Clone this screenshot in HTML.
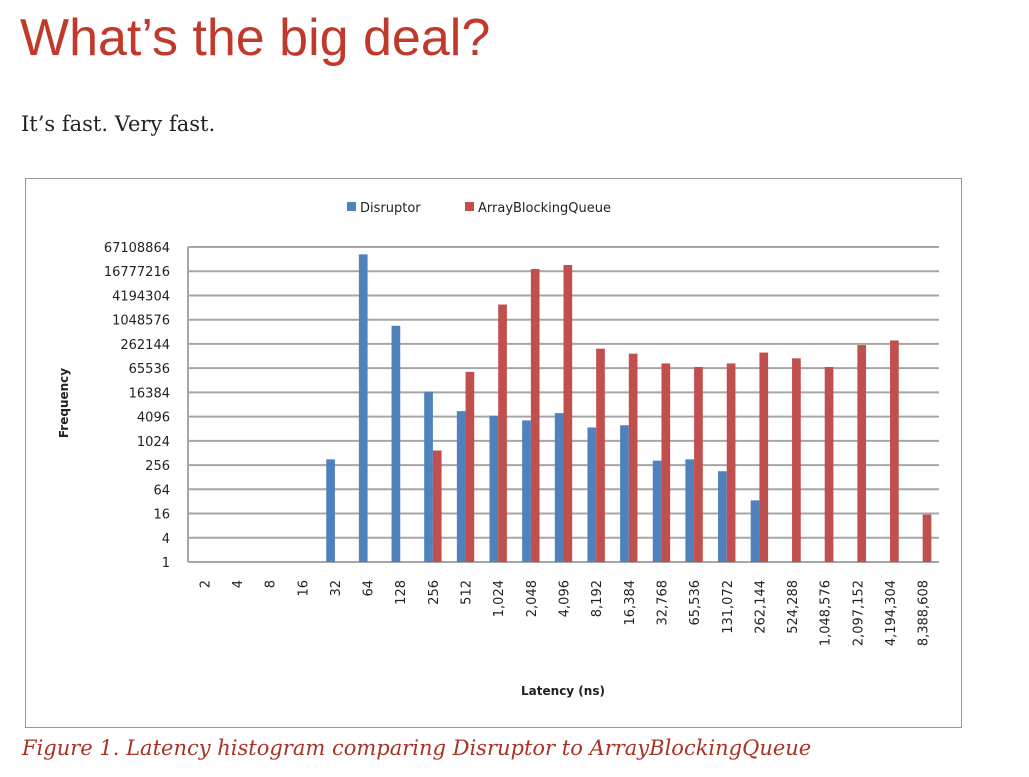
<!DOCTYPE html>
<html><head><meta charset="utf-8"><style>
body{margin:0;background:#fff;width:1029px;height:777px;overflow:hidden;position:relative}
#title{position:absolute;left:20px;top:8px;font:52px "Liberation Sans",sans-serif;color:#c0392b;letter-spacing:0px;margin:0;font-weight:normal}
#sub{position:absolute;left:21px;top:112px;font:21px "DejaVu Serif",serif;color:#222;margin:0}
#cap{position:absolute;left:22px;top:736px;font:italic 21px "DejaVu Serif",serif;color:#a93226;margin:0}
svg{position:absolute;left:0;top:0}
</style></head><body>
<h1 id="title">What’s the big deal?</h1>
<p id="sub">It’s fast. Very fast.</p>
<svg id="chart" width="1029" height="777" font-family="DejaVu Sans, sans-serif">
<rect x="25.5" y="178.5" width="936" height="549" fill="#fff" stroke="#999"/>
<g>
<rect x="347" y="202" width="9" height="9" fill="#4f81bd"/>
<text x="360" y="212" font-size="13" fill="#222">Disruptor</text>
<rect x="465" y="202" width="9" height="9" fill="#c0504d"/>
<text x="478" y="212" font-size="13" fill="#222">ArrayBlockingQueue</text>
</g>
<text transform="translate(68,403) rotate(-90)" text-anchor="middle" font-size="12" font-weight="bold" fill="#222">Frequency</text>
<text x="563" y="695" text-anchor="middle" font-size="12" font-weight="bold" fill="#222">Latency (ns)</text>
<g id="grid"></g><g id="bars"></g><g id="ylab"></g><g id="xlab"></g>
</svg>
<p id="cap">Figure 1. Latency histogram comparing Disruptor to ArrayBlockingQueue</p>
<script>
const categories=["2","4","8","16","32","64","128","256","512","1,024","2,048","4,096","8,192","16,384","32,768","65,536","131,072","262,144","524,288","1,048,576","2,097,152","4,194,304","8,388,608"];
const disruptor=[0,0,0,0,355,44000000,740000,17000,5600,4300,3300,5000,2200,2500,330,355,180,34,0,0,0,0,0];
const abq=[0,0,0,0,0,0,0,590,53000,2500000,19000000,24000000,200000,150000,86000,70000,86000,160000,115000,70000,245000,320000,15];
const yTicks=[1,4,16,64,256,1024,4096,16384,65536,262144,1048576,4194304,16777216,67108864];
const NS="http://www.w3.org/2000/svg";
const L=188,R=939,T=247,B=562,maxLog=26;
function y(v){return v<=1?B:B-(Math.log2(v)/maxLog)*(B-T);}
const cw=(R-L)/categories.length;
function xc(i){return L+cw*(i+0.5);}
function mk(tag,attrs,parent){const e=document.createElementNS(NS,tag);for(const k in attrs)e.setAttribute(k,attrs[k]);document.getElementById(parent).appendChild(e);return e;}
yTicks.forEach(t=>{
 const l=mk('line',{x1:L,x2:R,y1:y(t),y2:y(t),stroke:'#a6a6a6','stroke-width':2},'grid');
 
 
 const tx=mk('text',{x:170,y:y(t)+5,'text-anchor':'end','font-size':13,fill:'#222'},'ylab');
 tx.textContent=t;
 
 
});
const ax=mk('line',{x1:L,x2:L,y1:T,y2:B,stroke:'#a6a6a6','stroke-width':2},'grid');


const bw=8.7;
categories.forEach((c,i)=>{
 if(disruptor[i]>1){const r=mk('rect',{x:xc(i)-bw,y:y(disruptor[i]),width:bw,height:B-y(disruptor[i]),fill:'#4f81bd'},'bars');
  
  }
 if(abq[i]>1){const r=mk('rect',{x:xc(i),y:y(abq[i]),width:bw,height:B-y(abq[i]),fill:'#c0504d'},'bars');
  
  }
 const tx=mk('text',{transform:`translate(${xc(i)+5},580) rotate(-90)`,'text-anchor':'end','font-size':13,fill:'#222'},'xlab');
 tx.textContent=c;
 
 
});
</script>
</body></html>
